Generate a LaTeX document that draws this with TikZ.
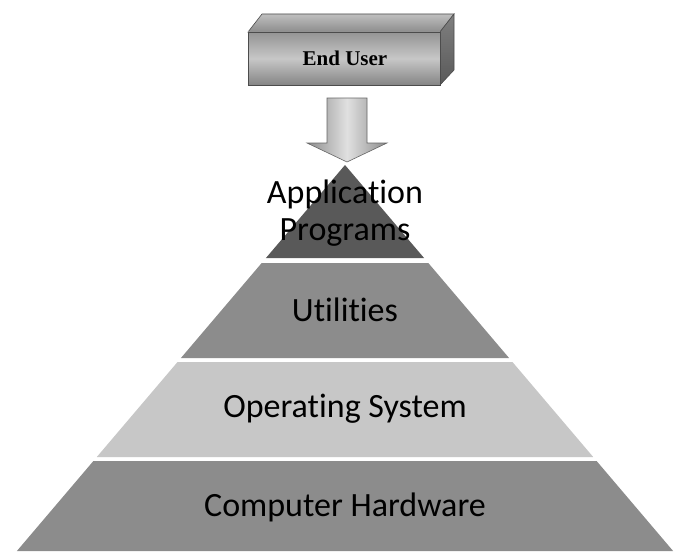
\documentclass[tikz,border=0pt]{standalone}
\usepackage{fontspec}
\newfontfamily\layerfont[Ligatures={NoCommon}]{Carlito}
\newfontfamily\boxfont{Liberation Serif}
\begin{document}
\begin{tikzpicture}[x=1pt,y=-1pt,
  layertext/.style={font=\layerfont\fontsize{34}{37}\selectfont, text=black, align=center, inner sep=0pt},
  darklayer/.style={fill=black!65},
  midlayer/.style={fill=black!45},
  lightlayer/.style={fill=black!22},
  boxline/.style={draw=black!70, line width=0.6pt}]
\useasboundingbox[fill=white] (0,0) rectangle (674,551);

% pyramid layers
\path[darklayer] (345,165) -- (424.05,258) -- (265.95,258) -- cycle;
\path[midlayer] (261.7,263) -- (428.3,263) -- (509.05,358) -- (180.95,358) -- cycle;
\path[lightlayer] (177.55,362) -- (512.45,362) -- (593.2,457) -- (96.8,457) -- cycle;
\path[midlayer] (93.4,461) -- (596.6,461) -- (673.1,551) -- (16.9,551) -- cycle;

% layer texts
\node[layertext] (app) at (345,213) {Application\\Programs};
\node[layertext] (util) at (345,310) {Utilities};
\node[layertext] (os) at (345,409) {Operating System};
\node[layertext] (hw) at (345,507) {Computer Hardware};

% End User 3D box
\path[boxline, top color=black!25, bottom color=black!45] (248,32) -- (262,14) -- (454,14) -- (440,32) -- cycle;
\path[boxline, top color=black!50, bottom color=black!65] (440,32) -- (454,14) -- (454,70) -- (440,85) -- cycle;
\path[boxline, top color=black!42, bottom color=black!48, middle color=black!22] (248,32) rectangle (440,85);
\node[font=\boxfont\bfseries\fontsize{21}{23}\selectfont, inner sep=0pt] (user) at (345,58) {End User};

% block arrow from End User to the pyramid
\path[draw=black!60, line width=0.6pt, left color=black!45, right color=black!45, middle color=black!12]
  (327,98) -- (367,98) -- (367,143) -- (387,143) -- (347,162) -- (307,143) -- (327,143) -- cycle;
\coordinate (arrowtip) at (347,162);
\end{tikzpicture}
\end{document}
